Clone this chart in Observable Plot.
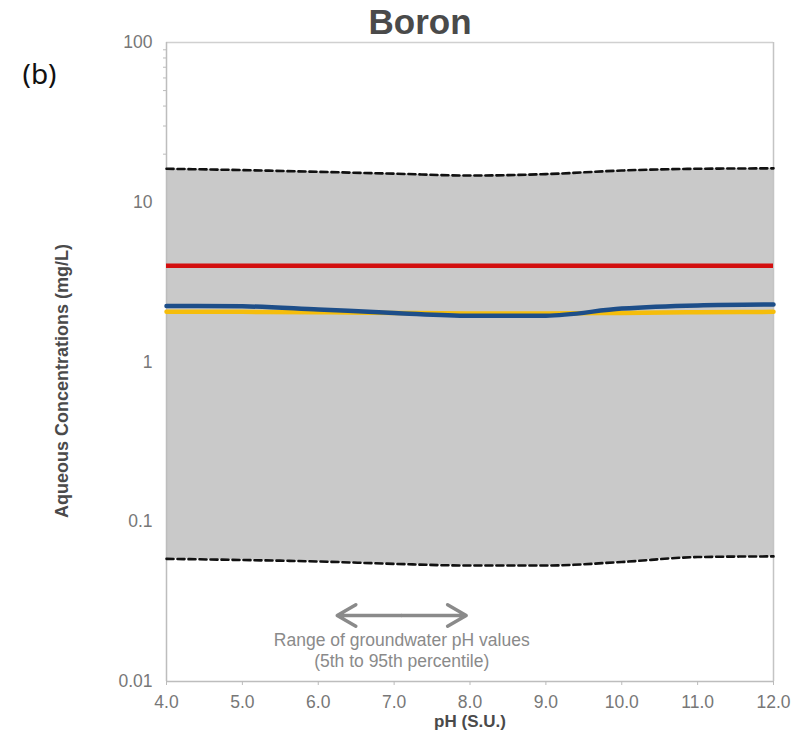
<!DOCTYPE html>
<html>
<head>
<meta charset="utf-8">
<script src="https://cdn.jsdelivr.net/npm/d3@7"></script>
<script src="https://cdn.jsdelivr.net/npm/@observablehq/plot@0.6"></script>
<style>
  html, body { margin: 0; padding: 0; background: #fff; }
  #chart { width: 804px; height: 744px; }
</style>
</head>
<body>
<div id="chart"></div>
<script>
// ---- data ----
const ph = [4, 5, 6, 7, 8, 9, 10, 11, 12];
const upper95 = [16.2, 15.9, 15.5, 15.1, 14.7, 15.0, 15.8, 16.2, 16.3];
const lower5 = [0.0586, 0.0576, 0.0564, 0.0545, 0.0532, 0.0532, 0.056, 0.0601, 0.0607];
const blueSeries = [2.24, 2.23, 2.13, 2.03, 1.95, 1.95, 2.16, 2.26, 2.29];
const yellowSeries = [2.06, 2.06, 2.05, 2.03, 2.01, 2.01, 2.03, 2.05, 2.06];
const redLevel = [4];
const xTicks = [4, 5, 6, 7, 8, 9, 10, 11, 12];
const yTicks = [0.01, 0.1, 1, 10, 100];
const yTickLabels = ["0.01", "0.1", "1", "10", "100"];
const yMinorTicks = [20, 30, 40, 50, 60, 70, 80, 90];
const arrowRange = [6.25, 7.95];
const arrowLevel = 0.0259;
const rangeTextLines = ["Range of groundwater pH values", "(5th to 95th percentile)"];
const rangeTextY = [0.0181, 0.0133];
const titleText = "Boron";
const panelLabel = "(b)";
const xLabel = "pH (S.U.)";
const yLabel = "Aqueous Concentrations (mg/L)";

const rows = ph.map((p, i) => ({
  ph: p, hi: upper95[i], lo: lower5[i], blue: blueSeries[i], yellow: yellowSeries[i]
}));
const arrowMid = (arrowRange[0] + arrowRange[1]) / 2;
const arrows = arrowRange.map(x => ({x1: arrowMid, x2: x, y: arrowLevel}));
const rangeText = rangeTextLines.map((t, i) => ({t, x: arrowMid, y: rangeTextY[i]}));

const font = "Liberation Sans, Arial, sans-serif";

const chart = Plot.plot({
  width: 804,
  height: 744,
  marginLeft: 166,
  marginRight: 31,
  marginTop: 42,
  marginBottom: 63,
  style: {fontFamily: font, fontSize: "17.5px", background: "#fff"},
  x: {domain: [4, 12]},
  y: {type: "log", domain: [0.01, 100]},
  marks: [
    Plot.areaY(rows, {x: "ph", y1: "lo", y2: "hi", fill: "#c9c9c9", curve: "monotone-x"}),
    // frame lines
    Plot.ruleY([100], {stroke: "#d0d0d0", strokeWidth: 1.5}),
    Plot.ruleX([12], {stroke: "#c4c4c4", strokeWidth: 1.5}),
    Plot.ruleX([4], {stroke: "#bdbdbd", strokeWidth: 1.5}),
    Plot.ruleY([0.01], {stroke: "#bdbdbd", strokeWidth: 1.5}),
    // axes
    Plot.axisX({
      ticks: xTicks, tickFormat: d3.format(".1f"), tickSize: 4, tickPadding: 10,
      stroke: "#bbb", fill: "#777", fontSize: 17.5, label: null
    }),
    Plot.axisY({
      ticks: yTicks, tickFormat: (d) => yTickLabels[yTicks.indexOf(d)], tickSize: 0, tickPadding: 14,
      fill: "#777", fontSize: 17.5, label: null
    }),
    Plot.axisY({
      ticks: yMinorTicks, tickFormat: () => "", tickSize: 3, stroke: "#bbb", label: null
    }),
    // percentile lines
    Plot.line(rows, {x: "ph", y: "hi", stroke: "#111", strokeWidth: 2.6, strokeDasharray: "7,4", curve: "monotone-x"}),
    Plot.line(rows, {x: "ph", y: "lo", stroke: "#111", strokeWidth: 2.6, strokeDasharray: "7,4", curve: "monotone-x"}),
    // series
    Plot.ruleY(redLevel, {stroke: "#d30f0f", strokeWidth: 4.5}),
    Plot.line(rows, {x: "ph", y: "yellow", stroke: "#f5bd0b", strokeWidth: 4.5, curve: "monotone-x"}),
    Plot.line(rows, {x: "ph", y: "blue", stroke: "#1d4e89", strokeWidth: 4.5, curve: "monotone-x"}),
    // range arrow
    Plot.arrow(arrows, {x1: "x1", x2: "x2", y1: "y", y2: "y", stroke: "#8a8a8a", strokeWidth: 3.5, headLength: 14, bend: 0}),
    Plot.text(rangeText, {x: "x", y: "y", text: "t", fill: "#8a8a8a", fontSize: 17.5, lineAnchor: "middle"}),
    // titles & labels
    Plot.text([titleText], {frameAnchor: "top", dx: -50, dy: -9, lineAnchor: "bottom", fontSize: 35, fontWeight: "bold", fill: "#4a4a4a"}),
    Plot.text([panelLabel], {frameAnchor: "top-left", dx: -144, dy: 33, textAnchor: "start", lineAnchor: "middle", fontSize: 28, fill: "#111", fontFamily: "Noto Sans, sans-serif"}),
    Plot.text([xLabel], {frameAnchor: "bottom", dx: 0, dy: 40, lineAnchor: "middle", fontSize: 17, fontWeight: "bold", fill: "#4a4a4a"}),
    Plot.text([yLabel], {frameAnchor: "left", dx: -104, dy: 19, rotate: -90, textAnchor: "middle", lineAnchor: "middle", fontSize: 18, fontWeight: "bold", fill: "#4a4a4a"})
  ]
});
document.getElementById("chart").appendChild(chart);
</script>
</body>
</html>
